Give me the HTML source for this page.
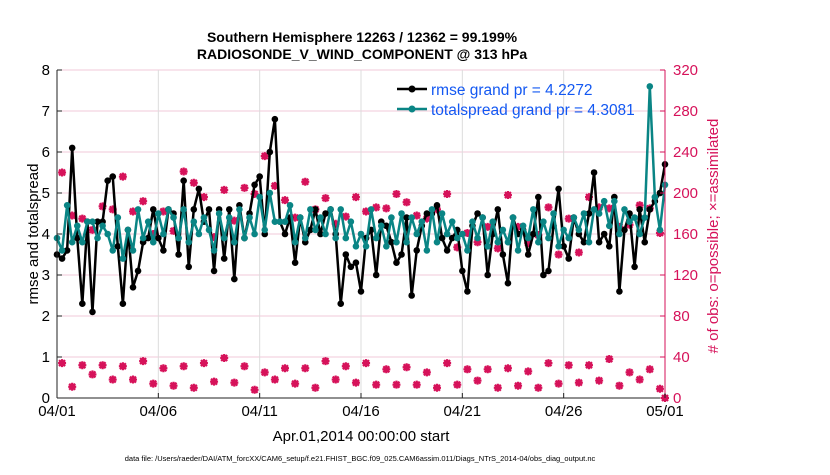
<!DOCTYPE html>
<html><head><meta charset="utf-8"><style>
body{margin:0;background:#fff;width:830px;height:470px;overflow:hidden}
svg{font-family:"Liberation Sans",Arial,sans-serif}
</style></head><body>
<svg id="c" width="830" height="470" xmlns="http://www.w3.org/2000/svg">
<rect width="830" height="470" fill="#fff"/>
<g id="grid"></g>
<g id="marks"></g>
<g id="axes"></g>
<text x="362" y="42" text-anchor="middle" font-size="14" font-weight="bold">Southern Hemisphere 12263 / 12362 = 99.199%</text>
<text x="362" y="59" text-anchor="middle" font-size="14" font-weight="bold">RADIOSONDE_V_WIND_COMPONENT @ 313 hPa</text>
<text x="361" y="441" text-anchor="middle" font-size="15">Apr.01,2014 00:00:00 start</text>
<text transform="translate(38,234) rotate(-90)" text-anchor="middle" font-size="15">rmse and totalspread</text>
<text transform="translate(718,236) rotate(-90)" text-anchor="middle" font-size="15" fill="#d6125a"># of obs: o=possible; ×=assimilated</text>
<text x="360" y="461" text-anchor="middle" font-size="7.5">data file: /Users/raeder/DAI/ATM_forcXX/CAM6_setup/f.e21.FHIST_BGC.f09_025.CAM6assim.011/Diags_NTrS_2014-04/obs_diag_output.nc</text>
<g>
<line x1="397" y1="89" x2="427" y2="89" stroke="#000" stroke-width="2.5"/><circle cx="412" cy="89" r="3.5" fill="#000"/>
<text x="431" y="95" font-size="15.5" fill="#1358f2">rmse grand pr = 4.2272</text>
<line x1="397" y1="109" x2="427" y2="109" stroke="#0a8585" stroke-width="2.5"/><circle cx="412" cy="109" r="3.5" fill="#0a8585"/>
<text x="431" y="115" font-size="15.5" fill="#1358f2">totalspread grand pr = 4.3081</text>
</g>
</svg>
<script>
const xTickLabels=["04/01","04/06","04/11","04/16","04/21","04/26","05/01"];
const xTickDays=[0,5,10,15,20,25,30];
const yTicks=[0,1,2,3,4,5,6,7,8];
const rTicks=[0,40,80,120,160,200,240,280,320];
const rmse=[3.5,3.4,3.6,6.1,3.9,2.3,4.3,2.1,4.3,4.3,5.3,5.4,3.7,2.3,4.1,2.7,3.1,3.8,3.9,4.6,3.9,3.6,4.6,4.5,3.5,5.3,3.2,4.6,5.1,4.3,4.6,3.1,4.6,3.4,4.6,2.9,4.7,3.9,4.5,5.2,5.4,4.0,6.0,6.8,4.3,4.0,4.4,3.3,4.4,3.8,4.1,4.6,4.0,4.5,4.6,4.0,2.3,3.5,3.2,3.3,2.6,3.9,4.1,3.0,4.3,4.2,3.8,3.3,3.5,4.4,2.5,3.6,4.2,4.5,4.5,4.7,3.9,3.6,3.9,4.1,3.1,2.6,4.2,4.5,4.4,3.0,4.0,4.6,3.5,2.8,4.4,4.0,4.1,3.5,4.0,4.9,3.0,3.1,4.2,5.1,3.7,3.4,4.4,4.0,3.8,4.5,5.5,3.8,4.0,3.7,4.9,2.6,4.1,4.5,3.2,4.6,3.8,4.6,4.8,5.0,5.7];
const spread=[3.9,3.6,4.7,3.8,4.2,3.8,4.3,4.3,3.9,4.2,4.0,3.6,4.4,3.4,4.1,3.6,4.6,3.9,4.3,3.8,4.5,4.0,4.6,4.4,3.9,4.6,3.8,4.3,4.0,4.4,4.1,3.6,4.5,3.9,4.4,3.8,4.6,3.9,4.4,4.0,4.9,4.1,5.0,4.3,4.3,4.3,4.7,3.8,4.4,3.9,4.6,4.1,4.4,4.0,4.6,3.9,4.6,3.9,4.3,3.7,4.0,3.7,4.6,3.9,4.2,3.7,4.4,3.8,4.5,3.8,4.4,4.0,4.3,3.6,4.6,3.8,4.5,4.0,4.3,3.9,4.0,3.6,4.3,3.9,4.4,3.7,4.3,3.8,4.1,3.8,4.4,3.6,4.2,3.9,4.6,3.8,4.3,3.9,4.5,3.7,4.1,3.9,4.4,4.1,4.5,3.8,4.6,4.5,4.8,4.2,4.8,4.0,4.6,4.3,4.4,4.0,4.4,7.6,4.9,4.1,5.2];
const assim=[220,178,175,164,187,184,216,182,192,160,182,163,221,210,196,157,203,173,205,199,236,207,193,176,211,184,195,170,177,196,182,186,185,199,191,178,175,184,199,147,161,152,167,146,198,167,151,159,186,140,175,142,196,186,185,167,169,188,185,161];
const possibleLow=[34,11,32,23,32,18,31,18,36,14,29,12,31,10,34,16,39,15,31,8,25,18,29,14,29,10,36,18,31,15,34,13,28,13,30,13,25,10,34,13,28,17,28,10,29,12,26,10,34,14,32,15,32,17,38,12,25,18,28,9];
const X0=57,X1=665,Y0=398,Y1=70;
const xs=d=>X0+(X1-X0)*d/30;
const yl=v=>Y0-(Y0-Y1)*v/8;
const yr=v=>Y0-(Y0-Y1)*v/320;
const NS="http://www.w3.org/2000/svg";
function mk(p,t,a){const e=document.createElementNS(NS,t);for(const k in a)e.setAttribute(k,a[k]);p.appendChild(e);return e;}
const G=document.getElementById('grid'),M=document.getElementById('marks'),A=document.getElementById('axes');
rTicks.forEach(v=>{const l=mk(G,'line',{x1:X0,x2:X1,y1:yr(v),y2:yr(v),stroke:'#f2c9d8','stroke-width':1});

});
xTickDays.forEach(d=>{const l=mk(G,'line',{x1:xs(d),x2:xs(d),y1:Y1,y2:Y0,stroke:'#dcdcdc','stroke-width':1});

});
function star(x,y,g){mk(g,'path',{d:`M${x-4},${y}H${x+4}M${x},${y-4}V${y+4}M${x-3},${y-3}L${x+3},${y+3}M${x-3},${y+3}L${x+3},${y-3}`,stroke:'#d6125a','stroke-width':2.2});mk(g,'circle',{cx:x,cy:y,r:3.2,fill:'#d6125a'});}
assim.forEach((v,i)=>{const g=mk(M,'g',{});


star(xs(0.25+0.5*i),yr(v),g);});
possibleLow.forEach((v,i)=>{const g=mk(M,'g',{});


star(xs(0.25+0.5*i),yr(v),g);});
{const g=mk(M,'g',{});


star(xs(30),yr(0),g);}
function series(arr,col,name){const st=30/(arr.length-1);
const pl=mk(M,'polyline',{points:arr.map((v,i)=>xs(i*st)+','+yl(v)).join(' '),fill:'none',stroke:col,'stroke-width':2.5,'stroke-linejoin':'round'});


arr.forEach((v,i)=>{const c=mk(M,'circle',{cx:xs(i*st),cy:yl(v),r:3.3,fill:col});

});}
series(rmse,'#000','rmse');
series(spread,'#0a8585','totalspread');
mk(A,'line',{x1:X0,x2:X0,y1:Y1,y2:Y0,stroke:'#222','stroke-width':1});
mk(A,'line',{x1:X0,x2:X1,y1:Y0,y2:Y0,stroke:'#222','stroke-width':1});
mk(A,'line',{x1:X1,x2:X1,y1:Y1,y2:Y0,stroke:'#d6125a','stroke-width':1});
yTicks.forEach(v=>{mk(A,'line',{x1:X0,x2:X0+5,y1:yl(v),y2:yl(v),stroke:'#222'});
const t=mk(A,'text',{x:X0-7,y:yl(v)+5,'text-anchor':'end','font-size':15});t.textContent=v;

});
rTicks.forEach(v=>{mk(A,'line',{x1:X1-5,x2:X1,y1:yr(v),y2:yr(v),stroke:'#d6125a'});
const t=mk(A,'text',{x:X1+8,y:yr(v)+5,'font-size':15,fill:'#d6125a'});t.textContent=v;

});
xTickDays.forEach((d,i)=>{mk(A,'line',{x1:xs(d),x2:xs(d),y1:Y0,y2:Y0-5,stroke:'#222'});
const t=mk(A,'text',{x:xs(d),y:Y0+18,'text-anchor':'middle','font-size':15});t.textContent=xTickLabels[i];

});
</script>
</body></html>
